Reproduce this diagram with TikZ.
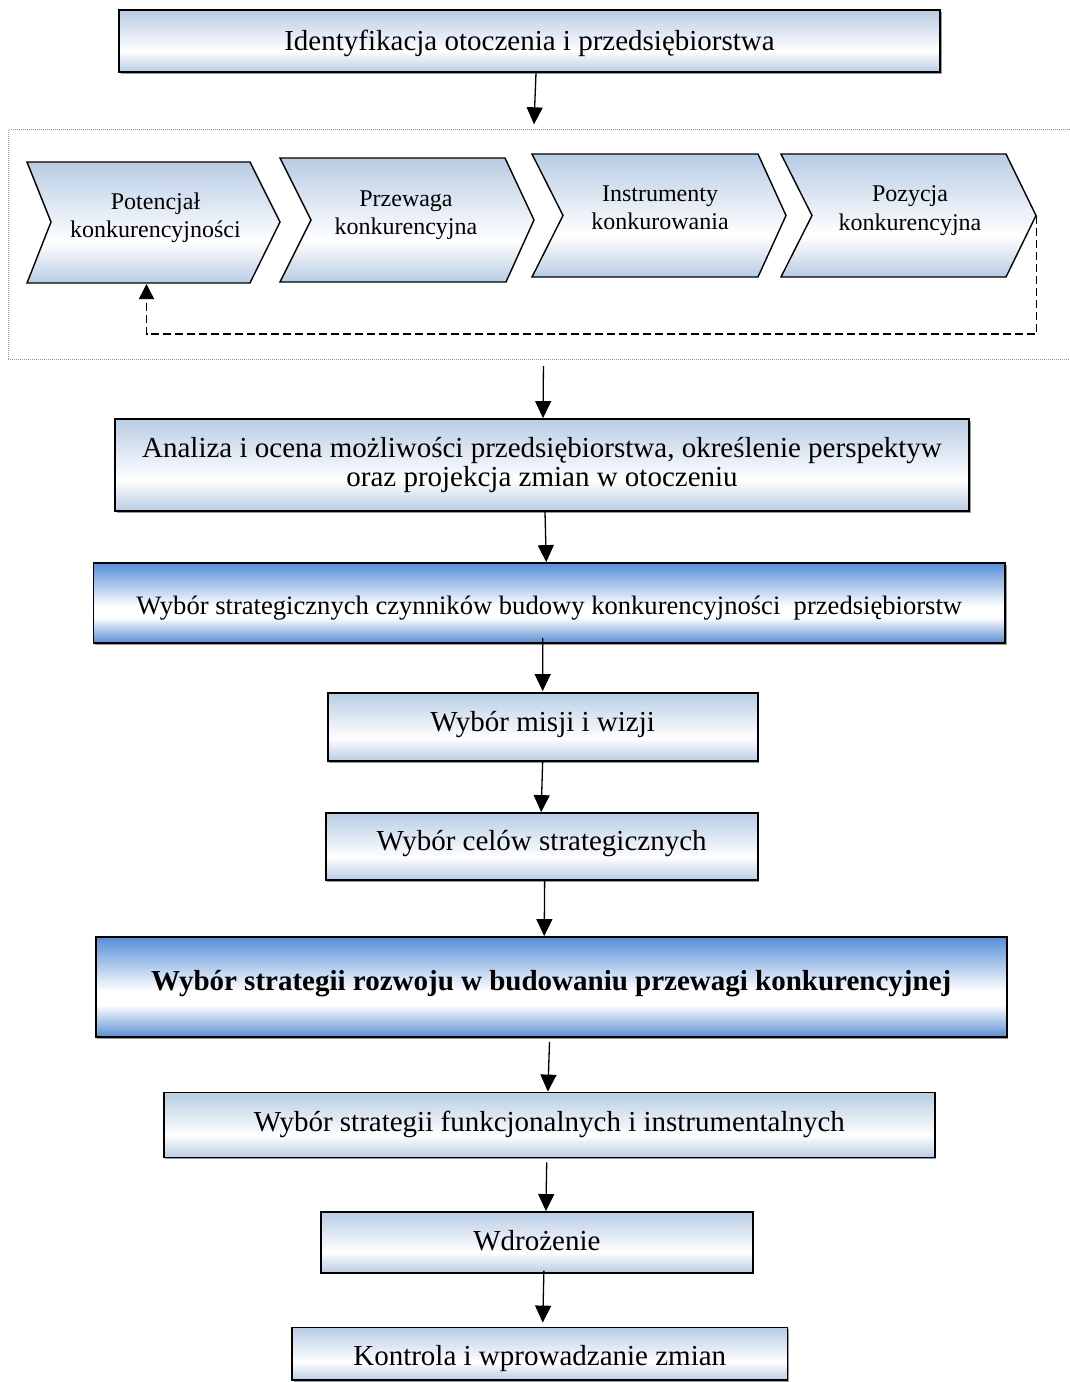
\documentclass[tikz,border=0pt]{standalone}
\usepackage{fontspec}
\setmainfont{Liberation Serif}
\usetikzlibrary{arrows.meta,calc,shadows}
\definecolor{lb}{RGB}{184,204,228}
\definecolor{db}{RGB}{85,142,213}
\definecolor{framegray}{RGB}{150,150,150}
\pgfdeclareverticalshading{lightsh}{100bp}{color(0bp)=(lb); color(25bp)=(lb); color(42bp)=(white); color(75bp)=(lb); color(100bp)=(lb)}
\pgfdeclareverticalshading{darksh}{100bp}{color(0bp)=(db); color(25bp)=(db); color(41bp)=(white); color(48bp)=(white); color(75bp)=(db); color(100bp)=(db)}
\newcommand{\bltxt}[2]{\raisebox{#1}[0pt][0pt]{#2}}
\tikzset{
  lbox/.style={draw=black, line width=1.8pt, shade, shading=lightsh, align=center, inner sep=0pt,
    font=\fontsize{29}{28.3}\selectfont,
    drop shadow={shadow xshift=1.5pt, shadow yshift=-1.5pt, fill=black!40, opacity=1}},
  dbox/.style={lbox, shading=darksh},
  arr/.style={line width=1.3pt, -{Triangle[length=17pt,width=16pt]}},
  chev/.style={draw=black, line width=1.4pt, shade, shading=lightsh, line join=miter},
  ctext/.style={align=center, inner sep=0pt, font=\fontsize{24}{28.5}\selectfont},
  framebox/.style={draw=framegray, line width=0.9pt, dash pattern=on 1pt off 1pt, inner sep=0pt},
  feedback/.style={line width=1.5pt, dash pattern=on 8pt off 4pt, -{Triangle[length=15pt,width=15pt]}}
}
\begin{document}
\begin{tikzpicture}[x=1pt,y=-1pt]
\useasboundingbox (0,0) rectangle (1070,1382);

% top box
\node[lbox, minimum width=821, minimum height=62] (top) at (529.5,41)
  {\bltxt{-9pt}{Identyfikacja otoczenia i przedsiębiorstwa}};

% dotted frame
\node[framebox, anchor=north west, minimum width=1080, minimum height=230] (frame) at (8,129.3) {};

% chevrons
\path[chev] (27,162) -- (250,162) -- (280,222) -- (250,283) -- (27,283) -- (51,222) -- cycle;
\path[chev] (280,158) -- (505,158) -- (534,220) -- (506,282) -- (280,282) -- (311,220) -- cycle;
\path[chev] (532,154) -- (758,154) -- (786,215.5) -- (758,277) -- (532,277) -- (563,215.5) -- cycle;
\path[chev] (781,154) -- (1006,154) -- (1036,215.5) -- (1006,277) -- (781,277) -- (812,215.5) -- cycle;

\node[ctext] (c1) at (155.5,218) {Potencjał\\konkurencyjności};
\node[ctext] (c2) at (406,215) {Przewaga\\konkurencyjna};
\node[ctext] (c3) at (660,208) {Instrumenty\\konkurowania};
\node[ctext] (c4) at (910,210.6) {Pozycja\\konkurencyjna};

\coordinate (tip4) at (1036.5,215.5);
\coordinate (bot1) at (146.5,284);
\coordinate (fbl) at (0,334);
\draw[feedback] (tip4) -- (tip4 |- fbl) -- (bot1 |- fbl) -- (bot1);

% main boxes
\node[lbox, minimum width=854, minimum height=92] (b2) at (542,465)
  {Analiza i ocena możliwości przedsiębiorstwa, określenie perspektyw\\oraz projekcja zmian w otoczeniu};
\node[dbox, minimum width=911.5, minimum height=80, font=\fontsize{26.6}{28}\selectfont] (b3) at (549.25,603)
  {\bltxt{-11.5pt}{Wybór strategicznych czynników budowy konkurencyjności \ przedsiębiorstw}};
\node[lbox, minimum width=430, minimum height=68] (b4) at (542.65,727)
  {\bltxt{-4.7pt}{Wybór misji i wizji}};
\node[lbox, minimum width=432, minimum height=67] (b5) at (541.65,846.5)
  {\bltxt{-4pt}{Wybór celów strategicznych}};
\node[dbox, minimum width=911, minimum height=100, font=\fontsize{29}{28}\selectfont\bfseries] (b6) at (551.2,987)
  {\bltxt{-3pt}{Wybór strategii rozwoju w budowaniu przewagi konkurencyjnej}};
\node[lbox, minimum width=771, minimum height=65] (b7) at (549.4,1125)
  {\bltxt{-6pt}{Wybór strategii funkcjonalnych i instrumentalnych}};
\node[lbox, minimum width=432, minimum height=60.7] (b8) at (536.9,1242.3)
  {\bltxt{-8.4pt}{Wdrożenie}};
\node[lbox, minimum width=495.5, minimum height=52.5] (b9) at (539.75,1353.75)
  {\bltxt{-11.25pt}{Kontrola i wprowadzanie zmian}};

% arrows
\draw[arr] ($(top.south)+(6.5,0)$) -- ($(top.south |- frame.north)+(4.5,-5)$);
\draw[arr] ($(frame.south)+(-5,6)$) -- ($(b2.north)+(1,0)$);
\draw[arr] ($(b2.south)+(3,0)$) -- ($(b3.north)+(-3,0)$);
\draw[arr] ($(b3.south)+(-6.5,-6)$) -- ($(b4.north)+(0,-1)$);
\draw[arr] (b4.south) -- ($(b5.north)+(-0.5,0)$);
\draw[arr] ($(b5.south)+(3,0)$) -- ($(b6.north)+(-7,0)$);
\draw[arr] ($(b6.south)+(-1.7,4)$) -- ($(b7.north)+(-1.5,0)$);
\draw[arr] ($(b7.south)+(-2.7,4)$) -- ($(b8.north)+(9,0)$);
\draw[arr] ($(b8.south)+(7,-3)$) -- ($(b9.north)+(3,-4)$);
\end{tikzpicture}
\end{document}
